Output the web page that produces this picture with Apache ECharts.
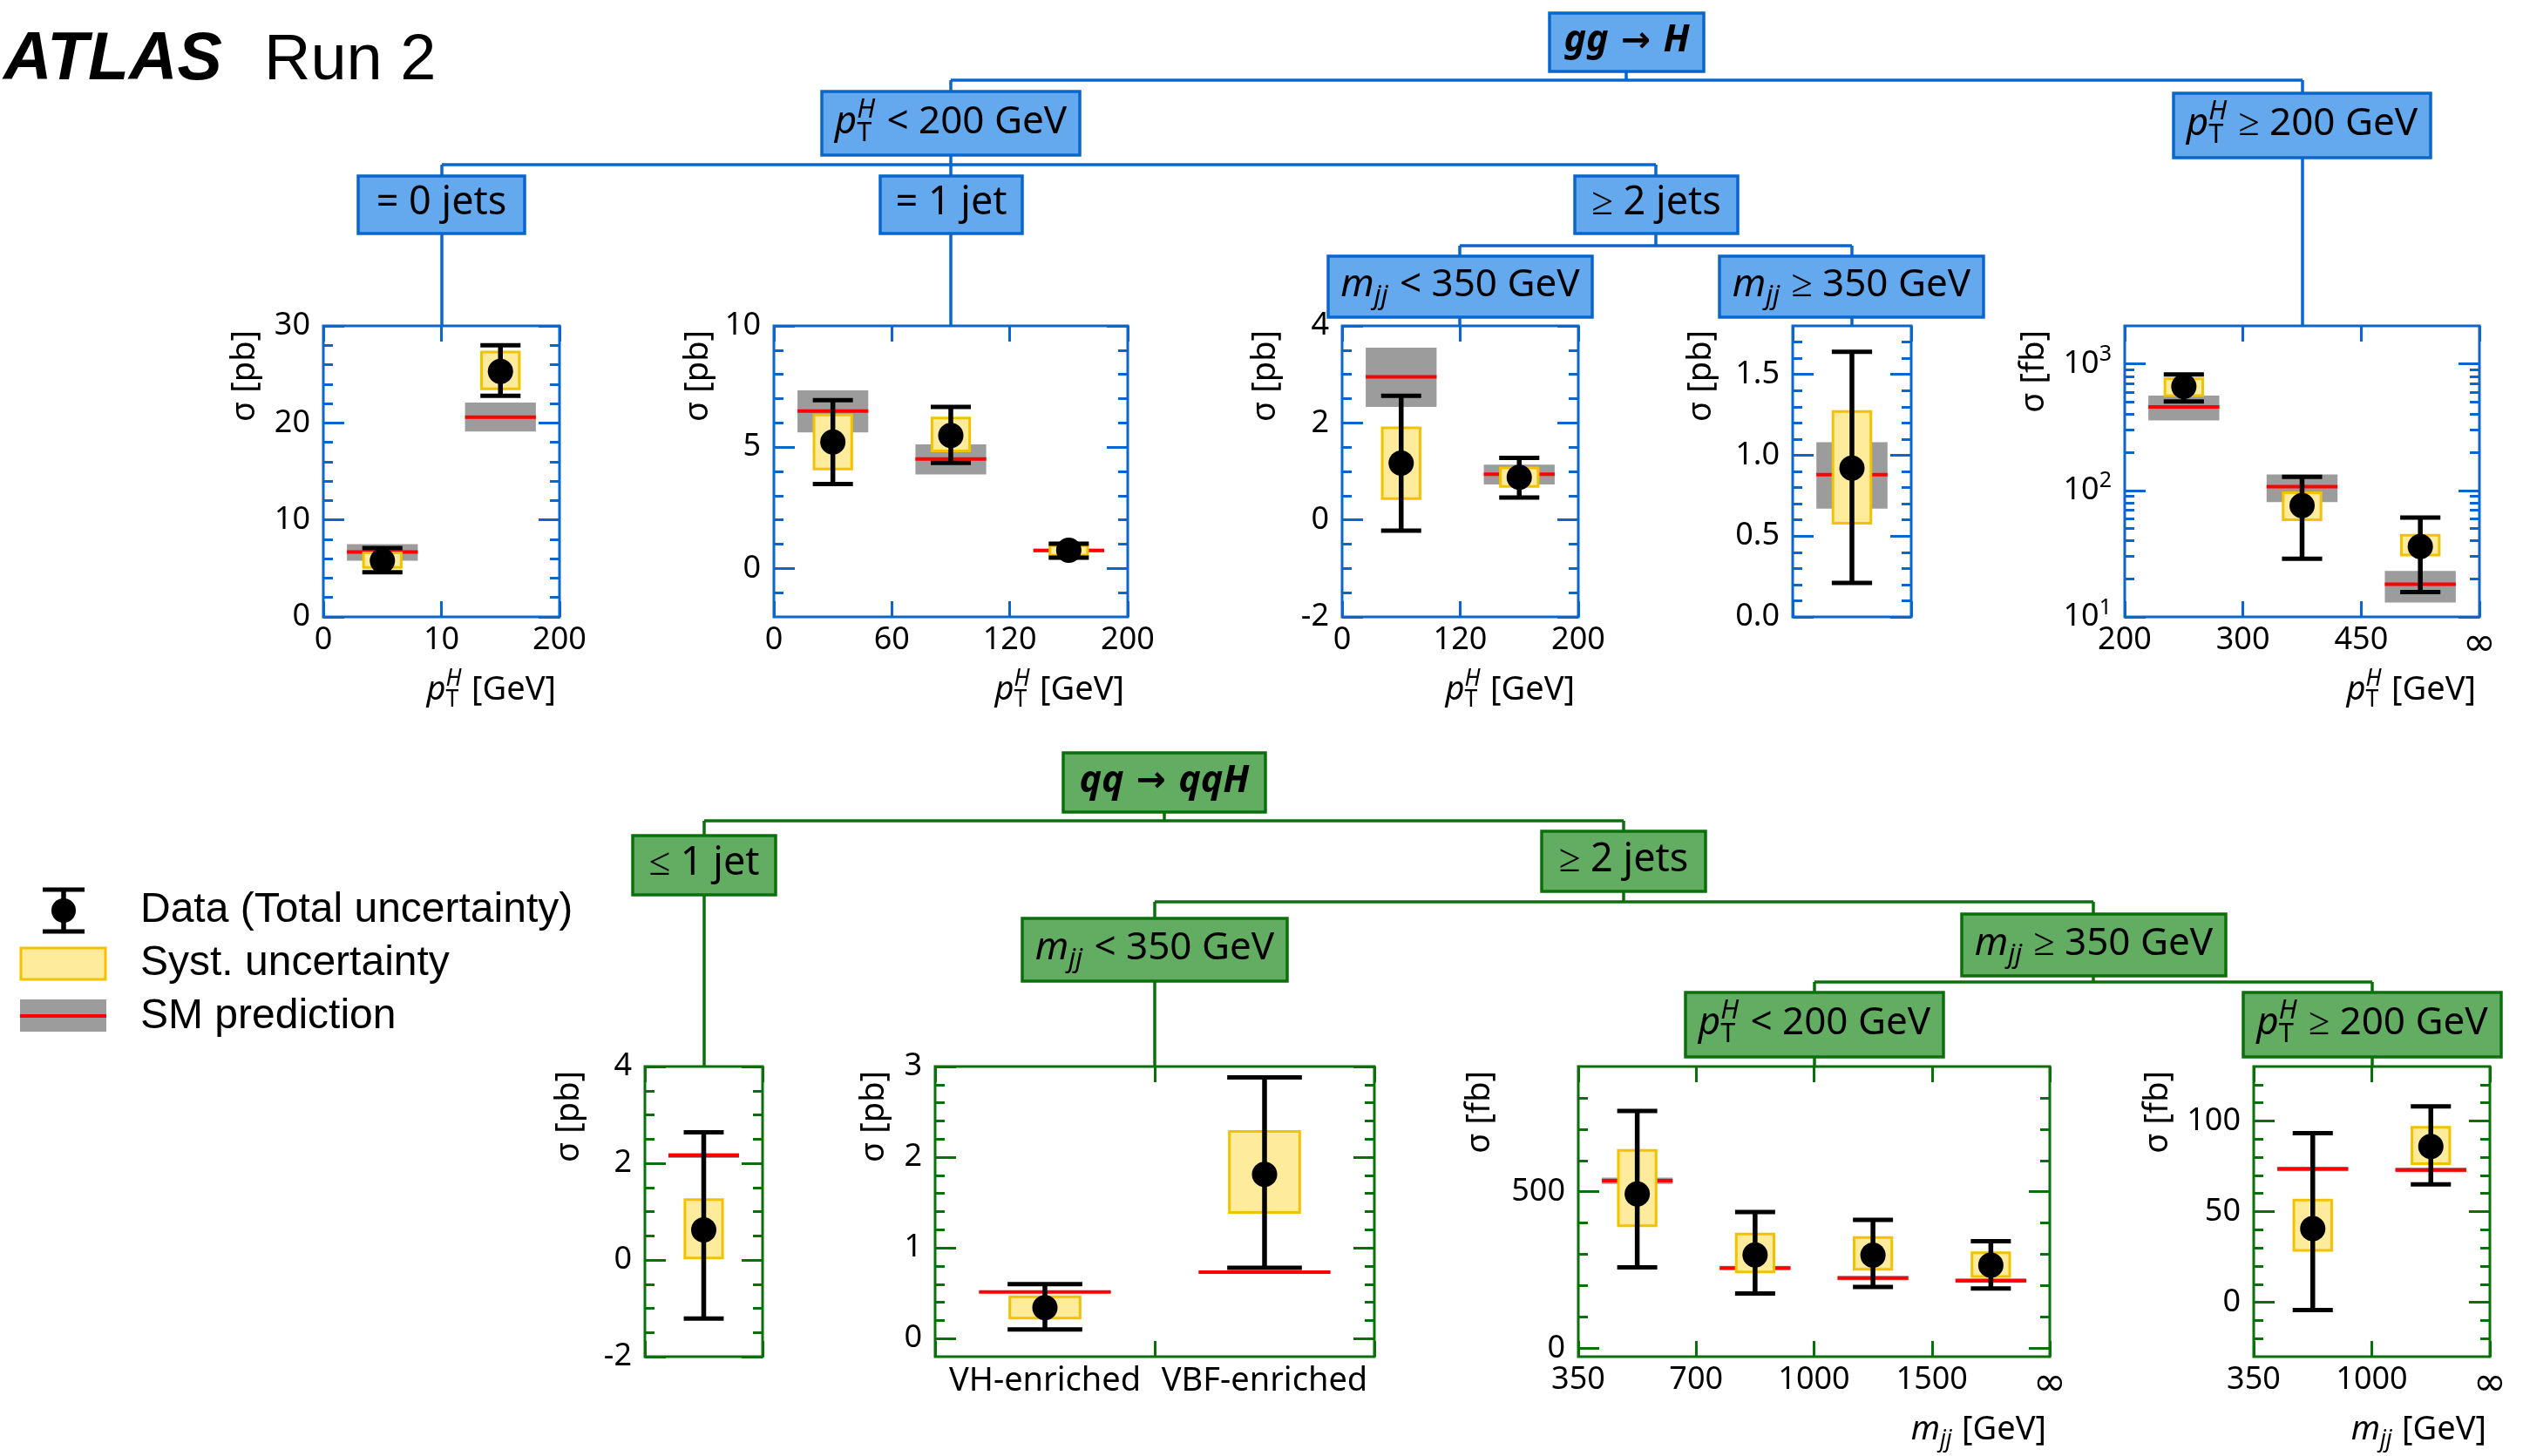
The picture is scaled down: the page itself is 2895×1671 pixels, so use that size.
<!DOCTYPE html>
<html>
<head>
<meta charset="utf-8">
<script src="https://cdn.jsdelivr.net/npm/echarts@6/dist/echarts.min.js"></script>
<style>
  html, body { margin: 0; padding: 0; background: #ffffff; }
  #chart { width: 2895px; height: 1671px; }
</style>
</head>
<body>
<div id="chart"></div>
<script>
// ---------------------------------------------------------------------------
// Measured cross sections per STXS bin: central value, total uncertainty
// interval, systematic interval, SM prediction and its uncertainty band.
// ---------------------------------------------------------------------------

// gg→H, pT^H < 200 GeV, = 0 jets  (bins in pT^H)
const ggH_0j_edges = ['0', '10', '200'];
const ggH_0j_val   = [5.8, 25.3];
const ggH_0j_tot   = [[4.6, 7.1], [22.8, 28.0]];
const ggH_0j_syst  = [[5.1, 6.6], [23.5, 27.3]];
const ggH_0j_sm    = [6.7, 20.6];
const ggH_0j_smErr = [[5.8, 7.5], [19.1, 22.1]];
const ggH_0j_yMajor = [0, 10, 20, 30];
const ggH_0j_yMinor = [2, 4, 6, 8, 12, 14, 16, 18, 22, 24, 26, 28];

// gg→H, pT^H < 200 GeV, = 1 jet
const ggH_1j_edges = ['0', '60', '120', '200'];
const ggH_1j_val   = [5.21, 5.48, 0.75];
const ggH_1j_tot   = [[3.48, 6.94], [4.35, 6.66], [0.44, 1.02]];
const ggH_1j_syst  = [[4.1, 6.33], [4.84, 6.2], [0.54, 0.94]];
const ggH_1j_sm    = [6.49, 4.51, 0.74];
const ggH_1j_smErr = [[5.61, 7.34], [3.87, 5.11], [0.68, 0.81]];
const ggH_1j_yMajor = [0, 5, 10];
const ggH_1j_yMinor = [-1, 1, 2, 3, 4, 6, 7, 8, 9];

// gg→H, pT^H < 200 GeV, >= 2 jets, mjj < 350 GeV
const ggH_2jLo_edges = ['0', '120', '200'];
const ggH_2jLo_val   = [1.17, 0.88];
const ggH_2jLo_tot   = [[-0.22, 2.56], [0.46, 1.28]];
const ggH_2jLo_syst  = [[0.44, 1.90], [0.69, 1.07]];
const ggH_2jLo_sm    = [2.95, 0.94];
const ggH_2jLo_smErr = [[2.33, 3.55], [0.73, 1.14]];
const ggH_2jLo_yMajor = [-2, 0, 2, 4];
const ggH_2jLo_yMinor = [-1.5, -1, -0.5, 0.5, 1, 1.5, 2.5, 3, 3.5];

// gg→H, pT^H < 200 GeV, >= 2 jets, mjj >= 350 GeV
const ggH_2jHi_val   = [0.92];
const ggH_2jHi_tot   = [[0.21, 1.64]];
const ggH_2jHi_syst  = [[0.58, 1.27]];
const ggH_2jHi_sm    = [0.88];
const ggH_2jHi_smErr = [[0.67, 1.08]];
const ggH_2jHi_yMajor = [0, 0.5, 1, 1.5];
const ggH_2jHi_yMinor = [0.1, 0.2, 0.3, 0.4, 0.6, 0.7, 0.8, 0.9, 1.1, 1.2, 1.3, 1.4, 1.6, 1.7];

// gg→H, pT^H >= 200 GeV (log scale, fb)
const ggH_hiPt_edges = ['200', '300', '450', '∞'];
const ggH_hiPt_val   = [663, 76, 36];
const ggH_hiPt_tot   = [[506, 825], [28.8, 128], [15.7, 61]];
const ggH_hiPt_syst  = [[562, 764], [58.7, 96], [30.9, 44.2]];
const ggH_hiPt_sm    = [458, 107, 18.1];
const ggH_hiPt_smErr = [[358, 562], [80.7, 134], [13.0, 23.1]];
const ggH_hiPt_yMajor = [10, 100, 1000];
const ggH_hiPt_yMinor = [20, 30, 40, 50, 60, 70, 80, 90, 200, 300, 400, 500, 600, 700, 800, 900];

// qq→qqH, <= 1 jet
const qqH_le1j_val   = [0.62];
const qqH_le1j_tot   = [[-1.21, 2.64]];
const qqH_le1j_syst  = [[0.04, 1.25]];
const qqH_le1j_sm    = [2.16];
const qqH_le1j_smErr = [[2.11, 2.21]];
const qqH_le1j_yMajor = [-2, 0, 2, 4];
const qqH_le1j_yMinor = [-1.5, -1, -0.5, 0.5, 1, 1.5, 2.5, 3, 3.5];

// qq→qqH, >= 2 jets, mjj < 350 GeV
const qqH_2jLo_cats  = ['VH-enriched', 'VBF-enriched'];
const qqH_2jLo_val   = [0.34, 1.81];
const qqH_2jLo_tot   = [[0.10, 0.60], [0.78, 2.88]];
const qqH_2jLo_syst  = [[0.225, 0.46], [1.39, 2.285]];
const qqH_2jLo_sm    = [0.514, 0.733];
const qqH_2jLo_smErr = [[0.504, 0.524], [0.722, 0.744]];
const qqH_2jLo_yMajor = [0, 1, 2, 3];
const qqH_2jLo_yMinor = [0.2, 0.4, 0.6, 0.8, 1.2, 1.4, 1.6, 1.8, 2.2, 2.4, 2.6, 2.8];

// qq→qqH, >= 2 jets, mjj >= 350 GeV, pT^H < 200 GeV (bins in mjj, fb)
const qqH_loPt_edges = ['350', '700', '1000', '1500', '∞'];
const qqH_loPt_val   = [493, 298, 297, 265];
const qqH_loPt_tot   = [[258, 758], [175, 435], [196, 410], [191, 342]];
const qqH_loPt_syst  = [[391, 632], [244, 365], [252, 354], [229, 305]];
const qqH_loPt_sm    = [535, 256, 224, 216];
const qqH_loPt_smErr = [[525, 545], [249, 263], [217, 231], [209, 223]];
const qqH_loPt_yMajor = [0, 500];
const qqH_loPt_yMinor = [100, 200, 300, 400, 600, 700, 800];

// qq→qqH, >= 2 jets, mjj >= 350 GeV, pT^H >= 200 GeV (bins in mjj, fb)
const qqH_hiPt_edges = ['350', '1000', '∞'];
const qqH_hiPt_val   = [40.6, 85.9];
const qqH_hiPt_tot   = [[-4.3, 93.3], [65, 108]];
const qqH_hiPt_syst  = [[28.6, 56.4], [76.4, 96.5]];
const qqH_hiPt_sm    = [73.5, 73.0];
const qqH_hiPt_smErr = [[72.2, 74.8], [71.7, 74.3]];
const qqH_hiPt_yMajor = [0, 50, 100];
const qqH_hiPt_yMinor = [-20, -10, 10, 20, 30, 40, 60, 70, 80, 90, 110, 120];

// ---------------------------------------------------------------------------
// Styling and layout
// ---------------------------------------------------------------------------
const BLUE  = { line: '#0a66cc', fill: '#64a9ee' };
const GREEN = { line: '#0b700b', fill: '#63ad63' };
const FONT  = 'Noto Sans';
const HFONT = 'Liberation Sans';
const YELLOW_FILL = '#ffeb9c', YELLOW_LINE = '#f2c200';
const GREY = '#9c9c9c', RED = '#ff0000';

const fmtInt = v => String(v);
const fmt1 = v => v.toFixed(1);
const fmtPow = v => '{a|10}{b|' + Math.round(Math.log10(v)) + '}';

const panels = [
  { box: [371, 374, 271, 334], col: BLUE, edges: ggH_0j_edges, val: ggH_0j_val, tot: ggH_0j_tot, syst: ggH_0j_syst, sm: ggH_0j_sm, smErr: ggH_0j_smErr,
    yMin: 0, yMax: 30, yMajor: ggH_0j_yMajor, yMinor: ggH_0j_yMinor, yFmt: fmtInt, unit: 'pb', yTitleX: 281, xTitle: 'pT' },
  { box: [888, 374, 406, 334], col: BLUE, edges: ggH_1j_edges, val: ggH_1j_val, tot: ggH_1j_tot, syst: ggH_1j_syst, sm: ggH_1j_sm, smErr: ggH_1j_smErr,
    yMin: -2, yMax: 10, yMajor: ggH_1j_yMajor, yMinor: ggH_1j_yMinor, yFmt: fmtInt, unit: 'pb', yTitleX: 801, xTitle: 'pT' },
  { box: [1540, 374, 271, 334], col: BLUE, edges: ggH_2jLo_edges, val: ggH_2jLo_val, tot: ggH_2jLo_tot, syst: ggH_2jLo_syst, sm: ggH_2jLo_sm, smErr: ggH_2jLo_smErr,
    yMin: -2, yMax: 4, yMajor: ggH_2jLo_yMajor, yMinor: ggH_2jLo_yMinor, yFmt: fmtInt, unit: 'pb', yTitleX: 1452, xTitle: 'pT' },
  { box: [2057, 374, 136, 334], col: BLUE, val: ggH_2jHi_val, tot: ggH_2jHi_tot, syst: ggH_2jHi_syst, sm: ggH_2jHi_sm, smErr: ggH_2jHi_smErr,
    yMin: 0, yMax: 1.8, yMajor: ggH_2jHi_yMajor, yMinor: ggH_2jHi_yMinor, yFmt: fmt1, unit: 'pb', yTitleX: 1952 },
  { box: [2438, 374, 407, 334], col: BLUE, edges: ggH_hiPt_edges, val: ggH_hiPt_val, tot: ggH_hiPt_tot, syst: ggH_hiPt_syst, sm: ggH_hiPt_sm, smErr: ggH_hiPt_smErr,
    log: true, yMin: 10, yMax: 2000, yMajor: ggH_hiPt_yMajor, yMinor: ggH_hiPt_yMinor, yFmt: fmtPow, unit: 'fb', yTitleX: 2334, xTitle: 'pT' },
  { box: [740, 1224, 135, 333], col: GREEN, val: qqH_le1j_val, tot: qqH_le1j_tot, syst: qqH_le1j_syst, sm: qqH_le1j_sm, smErr: qqH_le1j_smErr,
    yMin: -2, yMax: 4, yMajor: qqH_le1j_yMajor, yMinor: qqH_le1j_yMinor, yFmt: fmtInt, unit: 'pb', yTitleX: 653 },
  { box: [1073, 1224, 504, 333], col: GREEN, cats: qqH_2jLo_cats, val: qqH_2jLo_val, tot: qqH_2jLo_tot, syst: qqH_2jLo_syst, sm: qqH_2jLo_sm, smErr: qqH_2jLo_smErr,
    yMin: -0.2, yMax: 3, yMajor: qqH_2jLo_yMajor, yMinor: qqH_2jLo_yMinor, yFmt: fmtInt, unit: 'pb', yTitleX: 1003 },
  { box: [1811, 1224, 541, 333], col: GREEN, edges: qqH_loPt_edges, val: qqH_loPt_val, tot: qqH_loPt_tot, syst: qqH_loPt_syst, sm: qqH_loPt_sm, smErr: qqH_loPt_smErr,
    yMin: -27, yMax: 900, yMajor: qqH_loPt_yMajor, yMinor: qqH_loPt_yMinor, yFmt: fmtInt, unit: 'fb', yTitleX: 1698, xTitle: 'mjj' },
  { box: [2586, 1224, 271, 333], col: GREEN, edges: qqH_hiPt_edges, val: qqH_hiPt_val, tot: qqH_hiPt_tot, syst: qqH_hiPt_syst, sm: qqH_hiPt_sm, smErr: qqH_hiPt_smErr,
    yMin: -30, yMax: 130, yMajor: qqH_hiPt_yMajor, yMinor: qqH_hiPt_yMinor, yFmt: fmtInt, unit: 'fb', yTitleX: 2476, xTitle: 'mjj' }
];

// ---------------------------------------------------------------------------
// Text helpers: mixed italic / sub- and superscript labels built from pieces
// ---------------------------------------------------------------------------
const measureCtx = document.createElement('canvas').getContext('2d');
function fontCss(size, it, b, fam) {
  return (it ? 'italic ' : '') + (b ? 'bold ' : '') + size + 'px "' + fam + '"';
}
function textWidth(t, size, it, b, fam) {
  measureCtx.font = fontCss(size, it, b, fam);
  return measureCtx.measureText(t).width;
}
// y is the text baseline; the "middle" anchor sits about k·size above it
function mathText(segs, o) {
  const fam0 = o.fam || FONT, s = o.size, ss = s * 0.7, k = o.k || 0.32;
  const items = [];
  let x = 0;
  segs.forEach(g => {
    const fam = g.fam || fam0;
    const sz = g.scale ? s * g.scale : s;
    if (g.t !== undefined) {
      items.push({ t: g.t, x: x, dy: 0, size: sz, it: !!g.it, b: !!g.b, fam: fam });
      x += textWidth(g.t, sz, g.it, g.b, fam);
    } else {
      let w = 0;
      if (g.sup) {
        items.push({ t: g.sup, x: x, dy: -0.42 * s, size: ss, it: !!g.supIt, b: !!g.b, fam: fam });
        w = Math.max(w, textWidth(g.sup, ss, g.supIt, g.b, fam));
      }
      if (g.sub) {
        items.push({ t: g.sub, x: x, dy: 0.2 * s, size: ss, it: !!g.subIt, b: !!g.b, fam: fam });
        w = Math.max(w, textWidth(g.sub, ss, g.subIt, g.b, fam));
      }
      x += w + 0.04 * s;
    }
  });
  const start = o.align === 'center' ? -x / 2 : (o.align === 'right' ? -x : 0);
  return {
    type: 'group', x: o.x, y: o.y, rotation: o.rotation || 0, silent: true,
    children: items.map(it => ({
      type: 'text', x: start + it.x, y: it.dy - k * it.size,
      style: {
        text: it.t, fontSize: it.size, fontFamily: it.fam,
        fontStyle: it.it ? 'italic' : 'normal', fontWeight: it.b ? 'bold' : 'normal',
        fill: '#000', align: 'left', verticalAlign: 'middle'
      }
    }))
  };
}

const PT  = [{ t: 'p', it: true }, { sub: 'T', sup: 'H', supIt: true }];
const MJJ = [{ t: 'm', it: true }, { sub: 'jj', subIt: true }];
const ARROW = { t: ' → ', b: true, fam: 'DejaVu Sans', scale: 0.95 };

// ---------------------------------------------------------------------------
// Custom renderers: boxes, SM line and error bars are placed in bin units
// ---------------------------------------------------------------------------
function rectItem(f0, f1, style) {
  return (params, api) => {
    const i = api.value(0);
    const a = api.coord([i + f0, api.value(2)]);
    const b = api.coord([i + f1, api.value(1)]);
    return { type: 'rect', shape: { x: a[0], y: a[1], width: b[0] - a[0], height: b[1] - a[1] }, style: Object.assign({}, style) };
  };
}
function hlineItem(f0, f1, style) {
  return (params, api) => {
    const i = api.value(0);
    const a = api.coord([i + f0, api.value(1)]);
    const b = api.coord([i + f1, api.value(1)]);
    return { type: 'line', shape: { x1: a[0], y1: a[1], x2: b[0], y2: b[1] }, style: Object.assign({}, style) };
  };
}
function errItem(halfCap) {
  return (params, api) => {
    const i = api.value(0);
    const lo = api.coord([i + 0.5, api.value(1)]);
    const hi = api.coord([i + 0.5, api.value(2)]);
    const xl = api.coord([i + 0.5 - halfCap, api.value(1)])[0];
    const xr = api.coord([i + 0.5 + halfCap, api.value(1)])[0];
    const bar = { stroke: '#000', lineWidth: 5.5 };
    const cap = { stroke: '#000', lineWidth: 5 };
    return {
      type: 'group',
      children: [
        { type: 'line', shape: { x1: lo[0], y1: lo[1], x2: hi[0], y2: hi[1] }, style: Object.assign({}, bar) },
        { type: 'line', shape: { x1: xl, y1: lo[1], x2: xr, y2: lo[1] }, style: Object.assign({}, cap) },
        { type: 'line', shape: { x1: xl, y1: hi[1], x2: xr, y2: hi[1] }, style: Object.assign({}, cap) }
      ]
    };
  };
}

// ---------------------------------------------------------------------------
// Build grids, axes and series for every panel
// ---------------------------------------------------------------------------
const grids = [], xAxes = [], yAxes = [], series = [], graphics = [];

panels.forEach((p, pi) => {
  const [left, top, width, height] = p.box;
  const n = p.val.length;
  grids.push({
    left: left, top: top, width: width, height: height,
    show: true, borderColor: p.col.line, borderWidth: 3, backgroundColor: 'transparent',
    containLabel: false, outerBoundsMode: 'none'
  });
  const tickLine = { color: p.col.line, width: 3 };

  let xLabel = { show: false };
  if (p.edges) {
    xLabel = { show: true, margin: 9, color: '#000', fontFamily: FONT, fontSize: 36,
      showMinLabel: true, showMaxLabel: true,
      formatter: v => {
        const e = p.edges[Math.round(v)] || '';
        return e === '∞' ? '{inf|∞}' : e;
      },
      rich: { inf: { fontFamily: 'DejaVu Sans', fontSize: 46, color: '#000', padding: [0, 0, 6, 0] } } };
  } else if (p.cats) {
    xLabel = { show: true, margin: 9, color: '#000', fontFamily: FONT, fontSize: 38,
      customValues: p.cats.map((c, i) => i + 0.5),
      formatter: v => p.cats[Math.floor(v)] || '' };
  }
  const xBase = {
    type: 'value', gridIndex: pi, min: 0, max: n, interval: 1,
    axisLine: { show: false, onZero: false }, splitLine: { show: false },
    axisTick: { show: true, inside: true, length: 18, lineStyle: tickLine }
  };
  xAxes.push(Object.assign({}, xBase, { position: 'bottom', axisLabel: xLabel }));
  xAxes.push(Object.assign({}, xBase, { position: 'top', axisLabel: { show: false } }));

  const yBase = {
    type: p.log ? 'log' : 'value', gridIndex: pi, min: p.yMin, max: p.yMax,
    axisLine: { show: false, onZero: false }, splitLine: { show: false }
  };
  if (p.log) yBase.logBase = 10;
  const majorTick = { show: true, inside: true, length: 24, lineStyle: tickLine, customValues: p.yMajor };
  const minorTick = { show: true, inside: true, length: 11, lineStyle: tickLine, customValues: p.yMinor };
  const yLabel = {
    show: true, customValues: p.yMajor, formatter: p.yFmt, margin: 15,
    color: '#000', fontFamily: FONT, fontSize: 36,
    showMinLabel: true, showMaxLabel: true
  };
  if (p.log) {
    yLabel.rich = {
      a: { fontFamily: FONT, fontSize: 36, color: '#000', lineHeight: 46 },
      b: { fontFamily: FONT, fontSize: 25, color: '#000', lineHeight: 28, verticalAlign: 'top' }
    };
  }
  yAxes.push(Object.assign({}, yBase, { position: 'left', axisTick: majorTick, axisLabel: yLabel }));
  yAxes.push(Object.assign({}, yBase, { position: 'left', axisTick: minorTick, axisLabel: { show: false } }));
  yAxes.push(Object.assign({}, yBase, { position: 'right', axisTick: majorTick, axisLabel: { show: false } }));
  yAxes.push(Object.assign({}, yBase, { position: 'right', axisTick: minorTick, axisLabel: { show: false } }));

  const xi = pi * 2, yi = pi * 4;
  const common = { type: 'custom', xAxisIndex: xi, yAxisIndex: yi, silent: true, clip: false, animation: false };
  series.push(Object.assign({}, common, {
    name: 'SM prediction', z: 2,
    data: p.smErr.map((d, i) => [i, d[0], d[1]]),
    renderItem: rectItem(0.2, 0.8, { fill: GREY })
  }));
  series.push(Object.assign({}, common, {
    name: 'SM prediction', z: 3,
    data: p.sm.map((v, i) => [i, v]),
    renderItem: hlineItem(0.2, 0.8, { stroke: RED, lineWidth: 4 })
  }));
  series.push(Object.assign({}, common, {
    name: 'Syst. uncertainty', z: 4,
    data: p.syst.map((d, i) => [i, d[0], d[1]]),
    renderItem: rectItem(0.34, 0.66, { fill: YELLOW_FILL, stroke: YELLOW_LINE, lineWidth: 3 })
  }));
  series.push(Object.assign({}, common, {
    name: 'Data (Total uncertainty)', z: 5,
    data: p.tot.map((d, i) => [i, d[0], d[1]]),
    renderItem: errItem(0.17)
  }));
  series.push({
    type: 'scatter', name: 'Data (Total uncertainty)', xAxisIndex: xi, yAxisIndex: yi, z: 6,
    silent: true, animation: false,
    data: p.val.map((v, i) => [i + 0.5, v]),
    symbol: 'circle', symbolSize: 29, itemStyle: { color: '#000', opacity: 1 }
  });

  // axis titles
  graphics.push({
    type: 'text', x: p.yTitleX, y: top + 5, rotation: Math.PI / 2, silent: true,
    style: { text: 'σ [' + p.unit + ']', fontSize: 38, fontFamily: FONT, fill: '#000', align: 'right', verticalAlign: 'middle' }
  });
  if (p.xTitle) {
    const segs = (p.xTitle === 'pT' ? PT : MJJ).concat([{ t: ' [GeV]' }]);
    graphics.push(mathText(segs, { x: left + width - 4, y: top + height + 96, size: 38, align: 'right' }));
  }
});

// ---------------------------------------------------------------------------
// Category tree above the panels
// ---------------------------------------------------------------------------
function treeBox(col, x, y, w, h, segs, size) {
  graphics.push({
    type: 'rect', silent: true, shape: { x: x, y: y, width: w, height: h },
    style: { fill: col.fill, stroke: col.line, lineWidth: 3.5 }
  });
  graphics.push(mathText(segs, { x: x + w / 2, y: y + h / 2 + size * 0.29, size: size, align: 'center' }));
}
function treeLines(col, segsList) {
  segsList.forEach(s => graphics.push({
    type: 'line', silent: true, shape: { x1: s[0], y1: s[1], x2: s[2], y2: s[3] },
    style: { stroke: col.line, lineWidth: 3.5 }
  }));
}

// gg→H branch
treeLines(BLUE, [
  [1866, 82, 1866, 92], [1091, 92, 2642, 92], [1091, 92, 1091, 105], [2642, 92, 2642, 107],
  [1091, 178, 1091, 189], [507, 189, 1900, 189],
  [507, 189, 507, 202], [1091, 189, 1091, 202], [1900, 189, 1900, 202],
  [507, 268, 507, 374], [1091, 268, 1091, 374],
  [1900, 268, 1900, 282], [1675, 282, 2125, 282], [1675, 282, 1675, 294], [2125, 282, 2125, 294],
  [1675, 364, 1675, 374], [2125, 364, 2125, 374],
  [2642, 181, 2642, 374]
]);
treeBox(BLUE, 1778, 15, 177, 67, [{ t: 'gg', it: true, b: true }, ARROW, { t: 'H', it: true, b: true }], 43);
treeBox(BLUE, 943, 105, 296, 73, PT.concat([{ t: ' < 200 GeV' }]), 44);
treeBox(BLUE, 2494, 107, 295, 74, PT.concat([{ t: ' ≥ 200 GeV' }]), 44);
treeBox(BLUE, 411, 202, 191, 66, [{ t: '= 0 jets' }], 45);
treeBox(BLUE, 1010, 202, 163, 66, [{ t: '= 1 jet' }], 45);
treeBox(BLUE, 1807, 202, 187, 66, [{ t: '≥ 2 jets' }], 45);
treeBox(BLUE, 1524, 294, 303, 70, MJJ.concat([{ t: ' < 350 GeV' }]), 44);
treeBox(BLUE, 1973, 294, 303, 70, MJJ.concat([{ t: ' ≥ 350 GeV' }]), 44);

// qq→qqH branch
treeLines(GREEN, [
  [1336, 932, 1336, 942], [808, 942, 1863, 942], [808, 942, 808, 959], [1863, 942, 1863, 954],
  [808, 1027, 808, 1224],
  [1863, 1023, 1863, 1035], [1325, 1035, 2402, 1035], [1325, 1035, 1325, 1054], [2402, 1035, 2402, 1049],
  [1325, 1126, 1325, 1224],
  [2402, 1120, 2402, 1127], [2082, 1127, 2722, 1127], [2082, 1127, 2082, 1139], [2722, 1127, 2722, 1139],
  [2082, 1213, 2082, 1224], [2722, 1213, 2722, 1224]
]);
treeBox(GREEN, 1220, 864, 232, 68, [{ t: 'qq', it: true, b: true }, ARROW, { t: 'qqH', it: true, b: true }], 43);
treeBox(GREEN, 726, 959, 164, 68, [{ t: '≤ 1 jet' }], 45);
treeBox(GREEN, 1769, 954, 188, 69, [{ t: '≥ 2 jets' }], 45);
treeBox(GREEN, 1173, 1054, 304, 72, MJJ.concat([{ t: ' < 350 GeV' }]), 44);
treeBox(GREEN, 2251, 1049, 303, 71, MJJ.concat([{ t: ' ≥ 350 GeV' }]), 44);
treeBox(GREEN, 1934, 1139, 296, 74, PT.concat([{ t: ' < 200 GeV' }]), 44);
treeBox(GREEN, 2574, 1139, 296, 74, PT.concat([{ t: ' ≥ 200 GeV' }]), 44);

// ---------------------------------------------------------------------------
// Experiment label and legend
// ---------------------------------------------------------------------------
graphics.push(mathText([{ t: 'ATLAS', it: true, b: true }], { x: 4, y: 95, size: 77, fam: HFONT, k: 0.33 }));
graphics.push(mathText([{ t: 'Run 2' }], { x: 303, y: 95, size: 74, fam: HFONT, k: 0.33 }));

const legendBar = { stroke: '#000', lineWidth: 5.5 };
const legendCap = { stroke: '#000', lineWidth: 5 };
graphics.push({ type: 'line', silent: true, shape: { x1: 73, y1: 1021, x2: 73, y2: 1069 }, style: legendBar });
graphics.push({ type: 'line', silent: true, shape: { x1: 49, y1: 1021, x2: 97, y2: 1021 }, style: legendCap });
graphics.push({ type: 'line', silent: true, shape: { x1: 49, y1: 1069, x2: 97, y2: 1069 }, style: legendCap });
graphics.push({ type: 'circle', silent: true, shape: { cx: 73, cy: 1045, r: 14 }, style: { fill: '#000' } });
graphics.push({ type: 'rect', silent: true, shape: { x: 24, y: 1088, width: 97, height: 36 }, style: { fill: YELLOW_FILL, stroke: YELLOW_LINE, lineWidth: 3 } });
graphics.push({ type: 'rect', silent: true, shape: { x: 23, y: 1147, width: 99, height: 37 }, style: { fill: GREY } });
graphics.push({ type: 'line', silent: true, shape: { x1: 23, y1: 1166, x2: 122, y2: 1166 }, style: { stroke: RED, lineWidth: 4 } });
graphics.push(mathText([{ t: 'Data (Total uncertainty)' }], { x: 161, y: 1061, size: 48, fam: HFONT, k: 0.33 }));
graphics.push(mathText([{ t: 'Syst. uncertainty' }], { x: 161, y: 1122, size: 48, fam: HFONT, k: 0.33 }));
graphics.push(mathText([{ t: 'SM prediction' }], { x: 161, y: 1183, size: 48, fam: HFONT, k: 0.33 }));

// ---------------------------------------------------------------------------
const chart = echarts.init(document.getElementById('chart'), null, { renderer: 'canvas' });
chart.setOption({
  backgroundColor: '#ffffff',
  animation: false,
  grid: grids,
  xAxis: xAxes,
  yAxis: yAxes,
  series: series,
  graphic: { elements: graphics }
});
</script>
</body>
</html>
